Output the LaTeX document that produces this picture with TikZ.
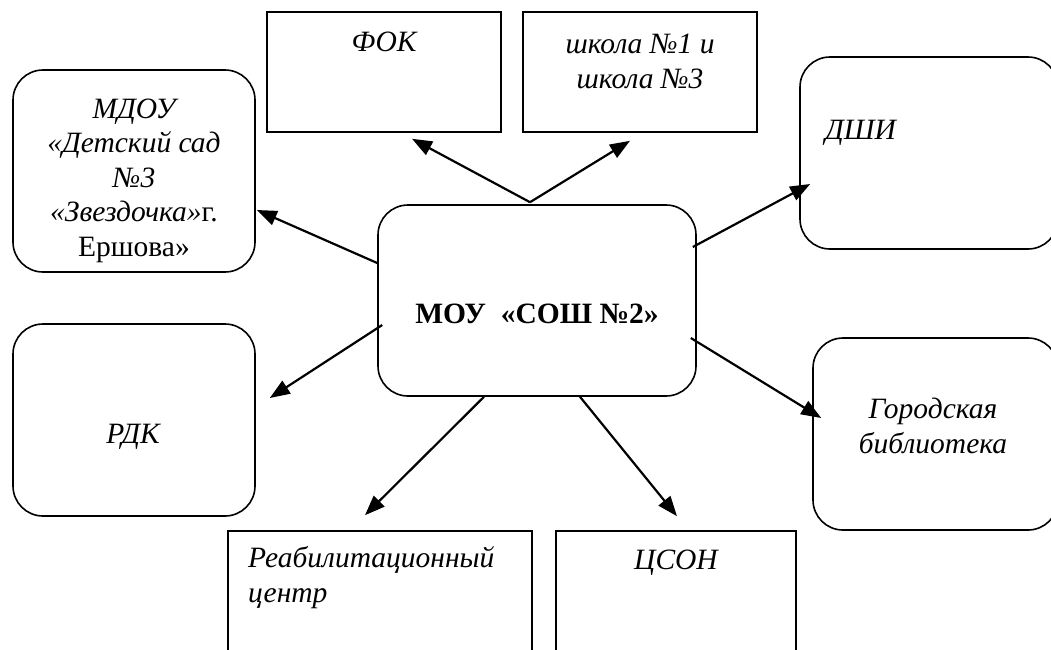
\documentclass[tikz,border=0pt]{standalone}
\usepackage{fontspec}
\setmainfont{Liberation Serif}
\usetikzlibrary{arrows.meta,calc}
\begin{document}
\begin{tikzpicture}[x=1pt,y=-1pt,
  rbox/.style={draw,line width=1.6pt,rounded corners=30pt,fill=white,inner sep=0pt},
  sbox/.style={draw,line width=1.6pt,fill=white,inner sep=0pt},
  lbl/.style={font=\fontsize{29.5}{34.5}\selectfont\itshape,inner sep=0pt,align=center},
  arr/.style={line width=2.2pt,-{Triangle[length=20pt,width=15pt]}}]
\useasboundingbox (0,0) rectangle (1051,649);
\clip (0,0) rectangle (1051,649);
% boxes
\node[rbox,minimum width=242pt,minimum height=202pt] (mdou) at (134,171) {};
\node[sbox,minimum width=234pt,minimum height=120pt] (fok) at (384,72) {};
\node[sbox,minimum width=234pt,minimum height=120pt] (shk) at (640,72) {};
\node[rbox,minimum width=258pt,minimum height=192pt] (dshi) at (929,153) {};
\node[rbox,minimum width=245pt,minimum height=192pt] (gor) at (935.5,434) {};
\node[rbox,minimum width=242pt,minimum height=192pt] (rdk) at (134,420) {};
\node[rbox,minimum width=318pt,minimum height=191pt] (c) at (537,300.5) {};
\node[sbox,minimum width=304pt,minimum height=160pt] (reab) at (380,611) {};
\node[sbox,minimum width=240pt,minimum height=160pt] (cson) at (676,611) {};
% texts
\node[lbl,anchor=base] (tmdou) at (134,256) {МДОУ\\«Детский сад\\№3\\«Звездочка»\upshape г.\\\upshape Ершова»};
\node[lbl,anchor=base] (tfok) at (384,51) {ФОК};
\node[lbl,anchor=base] (tshk) at (640,88) {школа №1 и\\школа №3};
\node[lbl,anchor=base west] (tdshi) at (825,139) {ДШИ};
\node[lbl,anchor=base] (tgor) at (933,453) {Городская\\библиотека};
\node[lbl,anchor=base] (trdk) at (133,443) {РДК};
\node[lbl,anchor=base west,align=left] (treab) at (248,602) {Реабилитационный\\центр};
\node[lbl,anchor=base] (tcson) at (676,569) {ЦСОН};
\node[font=\fontsize{29.5}{35}\selectfont\bfseries,inner sep=0pt,anchor=base] (tc) at (537,323) {МОУ\ \ «СОШ №2»};
% arrows
\draw[arr] ($(c.north)+(-7,-2)$) -- ($(fok.south)+(28,6)$);
\draw[arr] ($(c.north)+(-7,-2)$) -- ($(shk.south)+(-10,8)$);
\draw[arr] ($(c.west)+(0,-37.5)$) -- ($(mdou.east)+(1,39)$);
\draw[arr] ($(c.east)+(-4,-53.5)$) -- ($(dshi.west)+(11,31)$);
\draw[arr] ($(c.west)+(5,24.5)$) -- ($(rdk.east)+(14,-22)$);
\draw[arr] ($(c.east)+(-6,37.5)$) -- ($(gor.west)+(9,-16)$);
\draw[arr] ($(c.south)+(-53,0)$) -- ($(reab.north)+(-15,-15)$);
\draw[arr] ($(c.south)+(43,0)$) -- ($(cson.north)+(1,-14)$);
\end{tikzpicture}
\end{document}
